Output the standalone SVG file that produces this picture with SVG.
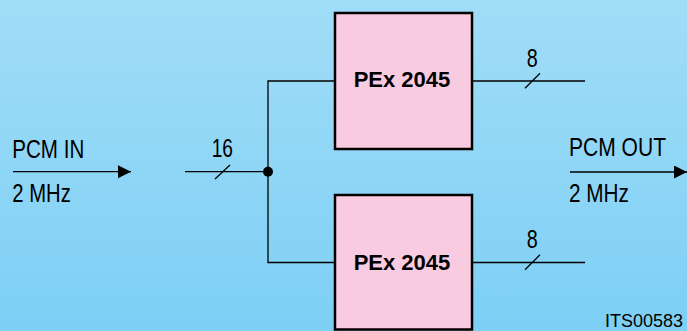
<svg xmlns="http://www.w3.org/2000/svg" width="687" height="331" viewBox="0 0 687 331">
<defs>
<linearGradient id="bg" x1="0" y1="0" x2="0" y2="1">
<stop offset="0" stop-color="#a1ddf7"/>
<stop offset="1" stop-color="#7dcff5"/>
</linearGradient>
<marker id="arr" viewBox="0 0 13 13" refX="13" refY="6.5" markerWidth="13" markerHeight="13" markerUnits="userSpaceOnUse" orient="auto">
<path d="M0,0 L13,6.5 L0,13 Z" fill="#000"/>
</marker>
</defs>
<style>
.box{fill:#f9cbe0;stroke:#000;stroke-width:2.5}
.ln{fill:none;stroke:#000;stroke-width:1.3}
.t{font-family:"Liberation Sans",Arial,sans-serif;font-size:25px;fill:#000}
.b{font-family:"Liberation Sans",Arial,sans-serif;font-size:22px;font-weight:bold;fill:#000;text-anchor:middle}
</style>
<rect x="0" y="0" width="687" height="331" fill="url(#bg)"/>
<g id="connectors">
<line class="ln" x1="13" y1="171.7" x2="131" y2="171.7" marker-end="url(#arr)"/>
<line class="ln" x1="185" y1="171.7" x2="268" y2="171.7"/>
<line class="ln" x1="215" y1="179" x2="230" y2="165"/>
<polyline class="ln" points="335,81 268,81 268,262.5 335,262.5"/>
<circle cx="268" cy="171.7" r="5" fill="#000"/>
<line class="ln" x1="472" y1="81" x2="585" y2="81"/>
<line class="ln" x1="525" y1="88.3" x2="540" y2="73.3"/>
<line class="ln" x1="472" y1="262.5" x2="585" y2="262.5"/>
<line class="ln" x1="525" y1="269.8" x2="540" y2="254.8"/>
<line class="ln" x1="570" y1="172" x2="687" y2="172" marker-end="url(#arr)"/>
</g>
<g id="pex1">
<rect class="box" x="335" y="13" width="137" height="136"/>
<text class="b" x="402" y="86.7">PEx 2045</text>
</g>
<g id="pex2">
<rect class="box" x="335" y="195" width="137" height="134.5"/>
<text class="b" x="402" y="270">PEx 2045</text>
</g>
<g id="labels">
<text class="t" x="12.3" y="157.5" textLength="72" lengthAdjust="spacingAndGlyphs">PCM IN</text>
<text class="t" x="12.3" y="202" textLength="58.5" lengthAdjust="spacingAndGlyphs">2 MHz</text>
<text class="t" x="211.7" y="156.7" textLength="21.3" lengthAdjust="spacingAndGlyphs">16</text>
<text class="t" x="526.7" y="66.7" textLength="11" lengthAdjust="spacingAndGlyphs">8</text>
<text class="t" x="526.7" y="248" textLength="11" lengthAdjust="spacingAndGlyphs">8</text>
<text class="t" x="569" y="156" textLength="97" lengthAdjust="spacingAndGlyphs">PCM OUT</text>
<text class="t" x="569" y="202" textLength="60" lengthAdjust="spacingAndGlyphs">2 MHz</text>
<text class="t" x="605" y="326.5" style="font-size:19px" textLength="78" lengthAdjust="spacingAndGlyphs">ITS00583</text>
</g>
</svg>
